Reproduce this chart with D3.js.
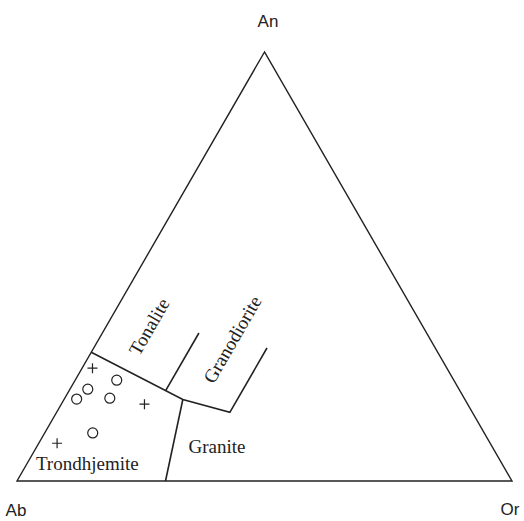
<!DOCTYPE html>
<html>
<head>
<meta charset="utf-8">
<script src="https://cdn.jsdelivr.net/npm/d3@7"></script>
<style>
    body { margin: 0; background: #fff; }
    svg { display: block; }
</style>
</head>
<body>
<svg></svg>
<script>
const WIDTH = 524;
const HEIGHT = 521;

// apex labels, order: An (top), Ab (left), Or (right)
const apexNames = ['An', 'Ab', 'Or'];

// field boundaries, each point [An, Ab, Or] in %
const tonaliteTrondhjemite = [[30, 70, 0], [19, 57, 24], [16, 49, 35], [31, 34, 35]];
const tonaliteGranodiorite = [[21, 59.5, 19.5], [34.5, 46, 19.5]];
const graniteTrondhjemite = [[19, 57, 24], [0, 70, 30]];

// samples [An, Ab, Or]
const circleSamples = [[23.5, 68.1, 8.4], [21.4, 75.0, 3.6], [19.1, 78.4, 2.5], [19.3, 71.6, 9.1], [11.2, 79.1, 9.7]];
const plusSamples = [[26.3, 71.6, 2.1], [17.9, 65.3, 16.8], [8.8, 87.5, 3.7]];

// field labels: name, [An, Ab, Or] of label centre, rotation
const fieldNames = ['Tonalite', 'Granodiorite', 'Granite', 'Trondhjemite'];
const fieldPos = [[36, 55.3, 8.7], [33, 40, 27], [8, 55.6, 36.4], [4, 83.8, 12.2]];
const fieldRotate = [-60, -60, 0, 0];

const SQ3 = Math.sqrt(3) / 2;
const x = d3.scaleLinear().domain([0, 1]).range([17, 512]);
const y = d3.scaleLinear().domain([0, SQ3]).range([481, 52]);

// ternary -> screen
function project(p) {
    const s = p[0] + p[1] + p[2];
    const an = p[0] / s, or = p[2] / s;
    return [x(or + an / 2), y(an * SQ3)];
}

const svg = d3.select('svg')
    .attr('width', WIDTH)
    .attr('height', HEIGHT);

const line = d3.line().x(d => project(d)[0]).y(d => project(d)[1]);
const ink = '#222';

// outline
svg.append('path')
    .attr('d', line([[100, 0, 0], [0, 100, 0], [0, 0, 100]]) + 'Z')
    .attr('fill', 'none')
    .attr('stroke', ink)
    .attr('stroke-width', 1.4)
    .attr('stroke-linejoin', 'miter');

svg.append('g')
    .selectAll('path')
    .data([tonaliteTrondhjemite, tonaliteGranodiorite, graniteTrondhjemite])
    .enter()
    .append('path')
        .attr('d', d => line(d))
        .attr('fill', 'none')
        .attr('stroke', ink)
        .attr('stroke-width', 1.6);

// apex labels
const apexPos = [[268, 27], [16, 516], [510, 515]];
svg.append('g')
    .selectAll('text')
    .data(apexNames)
    .enter()
    .append('text')
        .attr('x', (d, i) => apexPos[i][0])
        .attr('y', (d, i) => apexPos[i][1])
        .attr('text-anchor', 'middle')
        .attr('font-family', 'Liberation Sans, Arial, sans-serif')
        .attr('font-size', 17)
        .attr('fill', ink)
        .text(d => d);

// field labels
svg.append('g')
    .selectAll('text')
    .data(fieldNames)
    .enter()
    .append('text')
        .attr('transform', (d, i) => {
            const p = project(fieldPos[i]);
            return `translate(${p[0]},${p[1]}) rotate(${fieldRotate[i]})`;
        })
        .attr('text-anchor', 'middle')
        .attr('dominant-baseline', 'central')
        .attr('font-family', 'Liberation Serif, Times New Roman, serif')
        .attr('font-size', 19)
        .attr('fill', ink)
        .text(d => d);

// samples
svg.append('g')
    .selectAll('circle')
    .data(circleSamples)
    .enter()
    .append('circle')
        .attr('cx', d => project(d)[0])
        .attr('cy', d => project(d)[1])
        .attr('r', 5)
        .attr('fill', 'none')
        .attr('stroke', ink)
        .attr('stroke-width', 1.2);

svg.append('g')
    .selectAll('path')
    .data(plusSamples)
    .enter()
    .append('path')
        .attr('transform', d => `translate(${project(d)[0]},${project(d)[1]})`)
        .attr('d', 'M-5,0H5M0,-5V5')
        .attr('stroke', ink)
        .attr('stroke-width', 1.2);
</script>
</body>
</html>
